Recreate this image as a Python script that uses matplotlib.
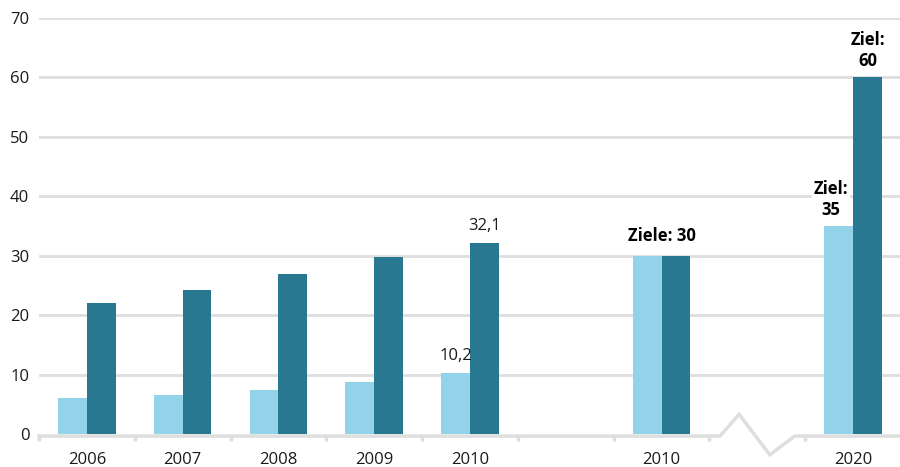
import matplotlib
matplotlib.use('Agg')
import matplotlib.pyplot as plt
import numpy as np

# Daten
years = ['2006', '2007', '2008', '2009', '2010', '2010', '2020']
slots = [0, 1, 2, 3, 4, 6, 8]
light_vals = [6.1, 6.6, 7.4, 8.8, 10.2, 30, 35]
dark_vals = [22.0, 24.2, 26.9, 29.8, 32.1, 30, 60]
y_ticks = [0, 10, 20, 30, 40, 50, 60, 70]

LIGHT = '#93d3ea'
DARK = '#287891'
GREY = '#dedede'

plt.rcParams['font.family'] = ['Open Sans', 'DejaVu Sans']
FS = 12

fig = plt.figure(figsize=(9, 4.67), dpi=100)
ax = fig.add_axes([39 / 900, 33 / 467, 862 / 900, 416 / 467])
ax.set_xlim(-0.5, 8.5)
ax.set_ylim(0, 70)

for s in ax.spines.values():
    s.set_visible(False)

# Gitterlinien (ohne Nulllinie)
for t in y_ticks[1:]:
    ax.axhline(t, color=GREY, lw=2, zorder=0)

w = 0.3
x = np.array(slots, dtype=float)
ax.bar(x - w / 2, light_vals, width=w, color=LIGHT, zorder=2)
ax.bar(x + w / 2, dark_vals, width=w, color=DARK, zorder=2)

# Achsenlinie mit Unterbrechung
y0 = -0.35
bx = [-0.5, 6.61, 6.81, 7.13, 7.39, 8.5]
by = [y0, y0, 3.3, -3.5, y0, y0]
ax.plot(bx, by, color=GREY, lw=2.5, clip_on=False, zorder=1,
        solid_joinstyle='miter')

ax.set_yticks(y_ticks)
ax.set_yticklabels([str(t) for t in y_ticks])
ax.tick_params(axis='y', length=0, pad=7, labelsize=FS, labelcolor='#1a1a1a')

ax.set_xticks(x)
ax.set_xticklabels(years)
ax.set_xticks(np.arange(-0.5, 8, 1), minor=True)
ax.tick_params(axis='x', which='major', length=0, pad=13, labelsize=FS,
               labelcolor='#1a1a1a')
ax.tick_params(axis='x', which='minor', length=5, width=2.5, color=GREY,
               direction='out')

# Beschriftungen
box = dict(facecolor='white', edgecolor='none', pad=1.5)
ax.annotate('10,2', (x[4] - w / 2, light_vals[4]), xytext=(0, 7),
            textcoords='offset points', ha='center', va='bottom',
            fontsize=FS, zorder=3, color='#1a1a1a')
ax.annotate('32,1', (x[4] + w / 2, dark_vals[4]), xytext=(0, 7),
            textcoords='offset points', ha='center', va='bottom',
            fontsize=FS, zorder=3, color='#1a1a1a')
ax.annotate('Ziele: 30', (x[5], dark_vals[5]), xytext=(0, 8),
            textcoords='offset points', ha='center', va='bottom',
            fontsize=FS, fontweight='bold', bbox=box, zorder=3)
ax.annotate('Ziel:\n35', (x[6] - w / 2 - 0.08, light_vals[6]), xytext=(0, 5),
            textcoords='offset points', ha='center', va='bottom',
            fontsize=FS, fontweight='bold', bbox=box, zorder=3,
            linespacing=1.25)
ax.annotate('Ziel:\n60', (x[6] + w / 2, dark_vals[6]), xytext=(0, 5),
            textcoords='offset points', ha='center', va='bottom',
            fontsize=FS, fontweight='bold', bbox=box, zorder=3,
            linespacing=1.25, annotation_clip=False)

fig.savefig('out.png', dpi=100)
